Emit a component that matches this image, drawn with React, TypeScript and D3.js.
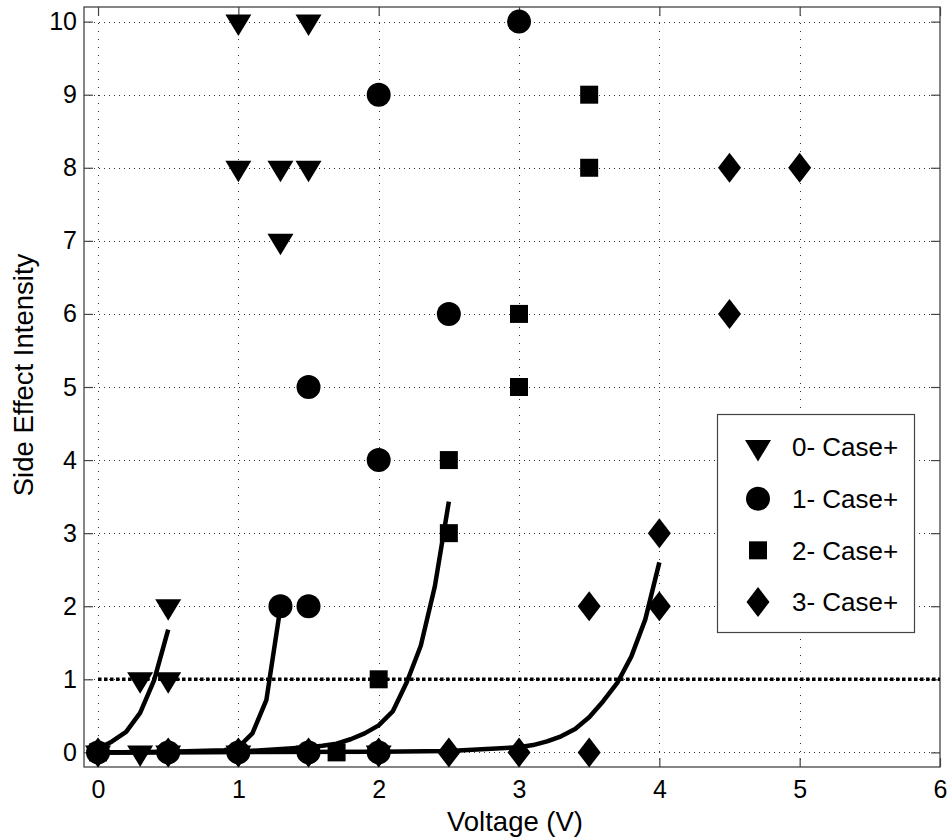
import { useEffect, useRef } from "react";
import * as d3 from "d3";

// tick values
const xTicks = [0, 1, 2, 3, 4, 5, 6];
const yTicks = [0, 1, 2, 3, 4, 5, 6, 7, 8, 9, 10];

// measured points [voltage, intensity]
const case0 = [[1, 10], [1.5, 10], [1, 8], [1.3, 8], [1.5, 8], [1.3, 7], [0.5, 2], [0.3, 1], [0.5, 1], [0, 0], [0.3, 0], [0.5, 0], [1, 0], [1.5, 0], [2, 0]];
const case1 = [[3, 10], [2, 9], [2.5, 6], [1.5, 5], [2, 4], [1.3, 2], [1.5, 2], [0, 0], [0.5, 0], [1, 0], [1.5, 0], [2, 0]];
const case2 = [[3.5, 9], [3.5, 8], [3, 6], [3, 5], [2.5, 4], [2.5, 3], [2, 1], [0, 0], [1.7, 0]];
const case3 = [[4.5, 8], [5, 8], [4.5, 6], [4, 3], [3.5, 2], [4, 2], [0, 0], [0.5, 0], [1, 0], [1.5, 0], [2, 0], [2.5, 0], [3, 0], [3.5, 0]];

// fitted curves
const fit0 = [[0, 0.05], [0.1, 0.15], [0.2, 0.28], [0.3, 0.54], [0.4, 0.99], [0.5, 1.68]];
const fit1 = [[0, 0], [0.5, 0.01], [0.9, 0.03], [1.0, 0.07], [1.1, 0.26], [1.2, 0.72], [1.29, 1.86]];
const fit2 = [[0, 0], [1.0, 0.01], [1.5, 0.07], [1.6, 0.09], [1.7, 0.12], [1.8, 0.18], [1.9, 0.26], [2.0, 0.37], [2.1, 0.56], [2.2, 0.96], [2.3, 1.46], [2.4, 2.27], [2.5, 3.43]];
const fit3 = [[0, 0], [2.0, 0.01], [2.5, 0.02], [3.0, 0.07], [3.1, 0.1], [3.2, 0.15], [3.3, 0.22], [3.4, 0.32], [3.5, 0.48], [3.6, 0.7], [3.7, 0.95], [3.8, 1.31], [3.9, 1.82], [4.0, 2.6]];

const threshold = [[0, 1], [6, 1]];

const legendLabels = ["0- Case+", "1- Case+", "2- Case+", "3- Case+"];

// marker shapes (size ignored, fixed pixel geometry like matlab markers)
const triDown = { draw(ctx: any) { ctx.moveTo(-13, -7); ctx.lineTo(13, -7); ctx.lineTo(0, 14.5); ctx.closePath(); } };
const circ = { draw(ctx: any) { ctx.moveTo(12, 0); ctx.arc(0, 0, 12, 0, 2 * Math.PI); ctx.closePath(); } };
const sq = { draw(ctx: any) { ctx.rect(-9, -9, 18, 18); } };
const diam = { draw(ctx: any) { ctx.moveTo(0, -15); ctx.lineTo(11.5, 0); ctx.lineTo(0, 15); ctx.lineTo(-11.5, 0); ctx.closePath(); } };

const FONT = "'Liberation Sans', Arial, sans-serif";

export default function App() {
    const svgRef = useRef<SVGSVGElement>(null);

    useEffect(() => {
        const width = 951, height = 839;
        const svg = d3.select(svgRef.current).attr("width", width).attr("height", height);
        svg.selectAll("*").remove();

        const left = 84, right = 940, top = 7, bottom = 767;
        const x = d3.scaleLinear().domain([-0.1, 6]).range([left, right]);
        const y = d3.scaleLinear().domain([-0.2, 10.2]).range([bottom, top]);

        svg.append("rect").attr("width", width).attr("height", height).attr("fill", "#fff");

        // grid
        const grid = svg.append("g").attr("stroke", "#333").attr("stroke-width", 1);
        grid.selectAll(".gx").data(xTicks.filter((d) => d < 6)).enter().append("line")
            .attr("x1", (d) => Math.round(x(d)) + 0.5).attr("x2", (d) => Math.round(x(d)) + 0.5)
            .attr("y1", top).attr("y2", bottom)
            .attr("stroke-dasharray", "1,7");
        grid.selectAll(".gy").data(yTicks).enter().append("line")
            .attr("y1", (d) => Math.round(y(d)) + 0.5).attr("y2", (d) => Math.round(y(d)) + 0.5)
            .attr("x1", left).attr("x2", right)
            .attr("stroke-dasharray", "1,4");

        // axes with inward ticks on all sides
        const styleAxis = (g: any) => {
            g.select(".domain").remove();
            g.selectAll(".tick line").attr("stroke", "#444").attr("stroke-width", 1.2);
            g.selectAll("text").attr("font-family", FONT).attr("font-size", 25).attr("fill", "#000");
        };
        svg.append("g").attr("transform", `translate(0,${bottom})`)
            .call(d3.axisBottom(x).tickValues(xTicks).tickSize(-9).tickPadding(13).tickFormat(d3.format("d")))
            .call(styleAxis);
        svg.append("g").attr("transform", `translate(0,${top})`)
            .call(d3.axisTop(x).tickValues(xTicks).tickSize(-9).tickFormat(() => ""))
            .call(styleAxis);
        svg.append("g").attr("transform", `translate(${left},0)`)
            .call(d3.axisLeft(y).tickValues(yTicks).tickSize(-9).tickPadding(7).tickFormat(d3.format("d")))
            .call(styleAxis);
        svg.append("g").attr("transform", `translate(${right},0)`)
            .call(d3.axisRight(y).tickValues(yTicks).tickSize(-9).tickFormat(() => ""))
            .call(styleAxis);

        svg.append("rect").attr("x", left).attr("y", top)
            .attr("width", right - left).attr("height", bottom - top)
            .attr("fill", "none").attr("stroke", "#444").attr("stroke-width", 1.3);

        // data markers
        const series = [
            { pts: case0, shape: triDown },
            { pts: case1, shape: circ },
            { pts: case2, shape: sq },
            { pts: case3, shape: diam },
        ];
        series.forEach((s) => {
            svg.append("g").selectAll("path").data(s.pts).enter().append("path")
                .attr("d", d3.symbol().type(s.shape as any)())
                .attr("transform", (d) => `translate(${x(d[0])},${y(d[1])})`)
                .attr("fill", "#000");
        });

        // fitted curves
        const line = d3.line<number[]>().x((d) => x(d[0])).y((d) => y(d[1]));
        [fit0, fit1, fit2, fit3].forEach((f) => {
            svg.append("path").datum(f).attr("d", line)
                .attr("fill", "none").attr("stroke", "#000").attr("stroke-width", 4.5)
                .attr("stroke-linejoin", "round");
        });

        // threshold line
        svg.append("path").datum(threshold).attr("d", line)
            .attr("fill", "none").attr("stroke", "#000").attr("stroke-width", 3.5)
            .attr("stroke-dasharray", "3.5,2.5");

        // legend
        const lg = svg.append("g");
        lg.append("rect").attr("x", 717.5).attr("y", 414.5).attr("width", 197).attr("height", 218)
            .attr("fill", "#fff").attr("stroke", "#444").attr("stroke-width", 1.2);
        const rowY = d3.scalePoint<number>().domain([0, 1, 2, 3]).range([447, 602]);
        series.forEach((s, i) => {
            lg.append("path").attr("d", d3.symbol().type(s.shape as any)())
                .attr("transform", `translate(758,${rowY(i)})`).attr("fill", "#000");
            lg.append("text").attr("x", 792).attr("y", rowY(i)).attr("dy", "0.36em")
                .attr("font-family", FONT).attr("font-size", 26).text(legendLabels[i]);
        });

        // axis labels
        svg.append("text").attr("x", (left + right) / 2 + 3).attr("y", 831)
            .attr("text-anchor", "middle").attr("font-family", FONT).attr("font-size", 27.5)
            .text("Voltage (V)");
        svg.append("text").attr("transform", `translate(33,375) rotate(-90)`)
            .attr("text-anchor", "middle").attr("font-family", FONT).attr("font-size", 27.5)
            .text("Side Effect Intensity");
    }, []);

    return <svg ref={svgRef} style={{ position: "absolute", left: 0, top: 0, display: "block" }}></svg>;
}
